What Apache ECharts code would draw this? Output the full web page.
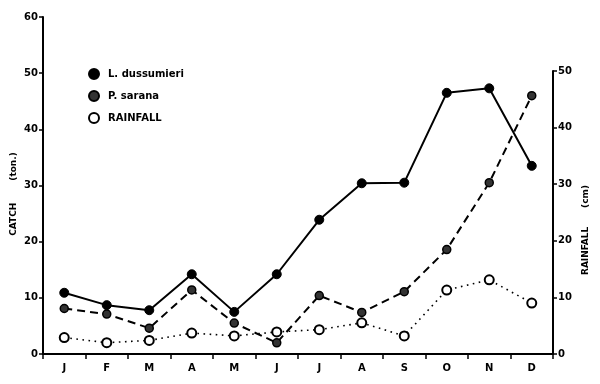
<!DOCTYPE html>
<html>
<head>
<meta charset="utf-8">
<script src="https://cdn.jsdelivr.net/npm/echarts@6/dist/echarts.min.js"></script>
<style>html,body{margin:0;padding:0;background:#fff;}#c{width:600px;height:384px;}</style>
</head>
<body>
<div id="c"></div>
<script>
const months = ['J','F','M','A','M','J','J','A','S','O','N','D'];
const dussumieri = [10.9, 8.7, 7.8, 14.2, 7.5, 14.2, 23.9, 30.4, 30.5, 46.5, 47.3, 33.5];
const sarana = [8.1, 7.1, 4.6, 11.4, 5.5, 2.0, 10.4, 7.4, 11.1, 18.6, 30.5, 46.0];
const rainfall = [2.9, 2.0, 2.4, 3.7, 3.2, 3.9, 4.3, 5.5, 3.2, 11.3, 13.1, 9.0];
const catchTicks = {min: 0, max: 60, interval: 10};
const rainTicks = {min: 0, max: 50, interval: 10};

const FONT = 'DejaVu Sans';
const chart = echarts.init(document.getElementById('c'), null, {renderer: 'canvas'});
const axisLineStyle = {color: '#000', width: 2};
chart.setOption({
  animation: false,
  backgroundColor: '#fff',
  textStyle: {fontFamily: FONT},
  grid: [
    {left: 43, right: 47, top: 17, bottom: 30},
    {left: 43, right: 47, top: 71, bottom: 30}
  ],
  legend: {
    orient: 'vertical',
    left: 88,
    top: 68,
    padding: 0,
    itemWidth: 10,
    itemHeight: 10,
    itemGap: 10,
    icon: 'circle',
    textStyle: {fontFamily: FONT, fontWeight: 'bold', fontSize: 10, color: '#000', padding: [0, 0, 0, 4]},
    data: ['L. dussumieri', 'P. sarana', 'RAINFALL']
  },
  xAxis: [
    {
      type: 'category', gridIndex: 0, data: months, boundaryGap: true,
      axisLine: {lineStyle: axisLineStyle},
      axisTick: {show: true, inside: false, length: 5, lineStyle: {color: '#000', width: 1.5}},
      axisLabel: {color: '#000', fontWeight: 'bold', fontSize: 10, margin: 9, fontFamily: FONT},
      splitLine: {show: false}
    },
    {
      type: 'category', gridIndex: 1, data: months, boundaryGap: true, show: false
    }
  ],
  yAxis: [
    {
      type: 'value', gridIndex: 0, position: 'left',
      min: catchTicks.min, max: catchTicks.max, interval: catchTicks.interval,
      axisLine: {show: true, lineStyle: axisLineStyle},
      axisTick: {show: true, length: 4, lineStyle: {color: '#000', width: 1.5}},
      axisLabel: {color: '#000', fontWeight: 'bold', fontSize: 10, margin: 5, fontFamily: FONT},
      splitLine: {show: false}
    },
    {
      type: 'value', gridIndex: 1, position: 'right',
      min: rainTicks.min, max: rainTicks.max, interval: rainTicks.interval,
      axisLine: {show: true, lineStyle: axisLineStyle},
      axisTick: {show: true, length: 4, lineStyle: {color: '#000', width: 1.5}},
      axisLabel: {color: '#000', fontWeight: 'bold', fontSize: 10, margin: 5, fontFamily: FONT},
      splitLine: {show: false}
    }
  ],
  graphic: [
    {type: 'text', x: 14, y: 194, rotation: Math.PI / 2, style: {text: 'CATCH       (ton.)', font: 'bold 9px "DejaVu Sans"', fill: '#000', align: 'center', verticalAlign: 'middle'}},
    {type: 'text', x: 586, y: 230, rotation: Math.PI / 2, style: {text: 'RAINFALL      (cm)', font: 'bold 9px "DejaVu Sans"', fill: '#000', align: 'center', verticalAlign: 'middle'}}
  ],
  series: [
    {
      name: 'L. dussumieri', type: 'line', xAxisIndex: 0, yAxisIndex: 0, data: dussumieri,
      symbol: 'circle', symbolSize: 9,
      lineStyle: {color: '#000', width: 2, type: 'solid'},
      itemStyle: {color: '#000', borderColor: '#000', borderWidth: 1}
    },
    {
      name: 'P. sarana', type: 'line', xAxisIndex: 0, yAxisIndex: 0, data: sarana,
      symbol: 'circle', symbolSize: 8,
      lineStyle: {color: '#000', width: 2, type: [8, 5]},
      itemStyle: {color: '#333', borderColor: '#000', borderWidth: 1.5}
    },
    {
      name: 'RAINFALL', type: 'line', xAxisIndex: 1, yAxisIndex: 1, data: rainfall,
      symbol: 'circle', symbolSize: 9,
      lineStyle: {color: '#000', width: 1.6, type: [1.6, 4.5]},
      itemStyle: {color: '#fff', borderColor: '#000', borderWidth: 2}
    }
  ]
});
</script>
</body>
</html>
